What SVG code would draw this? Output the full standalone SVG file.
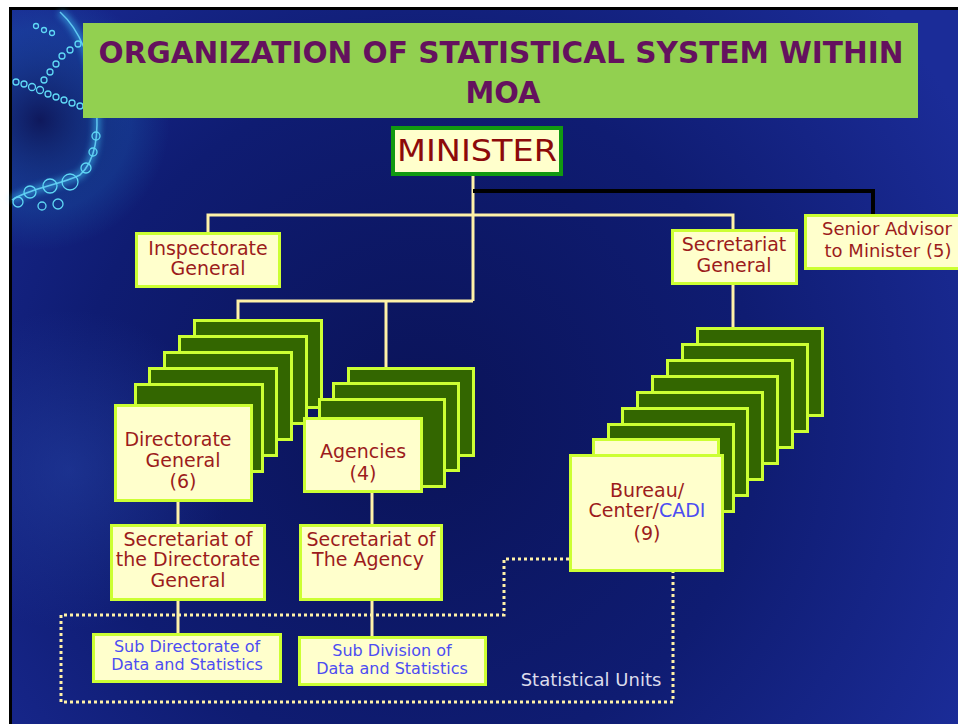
<svg xmlns="http://www.w3.org/2000/svg" width="958" height="724" viewBox="0 0 958 724">
<defs>
<radialGradient id="bg" cx="420" cy="420" r="620" gradientUnits="userSpaceOnUse">
<stop offset="0" stop-color="#0a1358"/>
<stop offset="0.55" stop-color="#0f1c72"/>
<stop offset="1" stop-color="#1b2c98"/>
</radialGradient>
<radialGradient id="glow" cx="40" cy="120" r="130" gradientUnits="userSpaceOnUse">
<stop offset="0" stop-color="#0a1040" stop-opacity="0.6"/>
<stop offset="0.7" stop-color="#1d6fb8" stop-opacity="0.25"/>
<stop offset="1" stop-color="#1d6fb8" stop-opacity="0"/>
</radialGradient>
<radialGradient id="swirl" cx="70" cy="470" r="160" gradientUnits="userSpaceOnUse">
<stop offset="0" stop-color="#2a4bb0" stop-opacity="0.45"/>
<stop offset="1" stop-color="#2a4bb0" stop-opacity="0"/>
</radialGradient>
<filter id="blur" x="-20%" y="-20%" width="140%" height="140%"><feGaussianBlur stdDeviation="3"/></filter>
<style>
.box{fill:#FFFFCC;stroke:#CCFF33;stroke-width:3}
.card{fill:#336600;stroke:#CCFF33;stroke-width:3}
.cardy{fill:#FFFFCC;stroke:#CCFF33;stroke-width:3}
.t{font-family:"DejaVu Sans","Liberation Sans",sans-serif;font-size:19px;fill:#9c1c1c;text-anchor:middle}
.s{font-size:18px}
.b{font-family:"DejaVu Sans","Liberation Sans",sans-serif;font-size:16px;fill:#4d4df2;text-anchor:middle}
.blue{fill:#4d4df2}
.ln{fill:none;stroke:#FFF2A8;stroke-width:3}
.bub{fill:none;stroke:#5fd8f5;stroke-width:1.3}
</style>
</defs>

<g id="background">
<rect x="0" y="0" width="958" height="724" fill="#ffffff"/>
<rect x="9" y="7" width="949" height="717" fill="#000000"/>
<rect x="12" y="10" width="946" height="714" fill="url(#bg)"/>
<rect x="12" y="10" width="300" height="300" fill="url(#glow)"/>
<rect x="12" y="300" width="260" height="330" fill="url(#swirl)"/>
<path d="M60 12 C80 30 92 60 96 100 C99 135 96 160 80 175 C60 185 30 188 12 200" fill="none" stroke="#3ab8ef" stroke-width="7" opacity="0.6" filter="url(#blur)"/>
<path d="M60 12 C80 30 92 60 96 100 C99 135 96 160 80 175 C60 185 30 188 12 200" fill="none" stroke="#6fe0ff" stroke-width="1.5" opacity="0.8"/>
<g class="bub">
<circle cx="70" cy="182" r="8"/><circle cx="50" cy="186" r="7"/><circle cx="30" cy="192" r="6"/>
<circle cx="18" cy="202" r="5"/><circle cx="58" cy="204" r="5"/><circle cx="42" cy="206" r="4"/>
<circle cx="86" cy="168" r="5"/><circle cx="93" cy="152" r="4"/><circle cx="96" cy="136" r="4"/>
<circle cx="16" cy="82" r="3"/><circle cx="24" cy="84" r="3"/><circle cx="32" cy="87" r="3.5"/>
<circle cx="40" cy="90" r="3.5"/><circle cx="48" cy="94" r="3"/><circle cx="56" cy="97" r="3"/>
<circle cx="64" cy="100" r="3"/><circle cx="72" cy="103" r="3"/><circle cx="80" cy="106" r="3"/>
<circle cx="44" cy="80" r="3"/><circle cx="50" cy="72" r="3"/><circle cx="56" cy="64" r="3"/>
<circle cx="62" cy="56" r="3"/><circle cx="70" cy="50" r="3"/><circle cx="78" cy="44" r="3"/>
<circle cx="36" cy="26" r="2.5"/><circle cx="44" cy="30" r="2.5"/><circle cx="52" cy="33" r="2.5"/>
</g>
</g>

<g id="title">
<rect x="83" y="23" width="835" height="95" fill="#92D050"/>
<text x="501" y="63" font-family="'DejaVu Sans','Liberation Sans',sans-serif" font-weight="bold" font-size="30" fill="#64115e" text-anchor="middle" textLength="805" lengthAdjust="spacingAndGlyphs">ORGANIZATION OF STATISTICAL SYSTEM WITHIN</text>
<text x="503" y="103" font-family="'DejaVu Sans','Liberation Sans',sans-serif" font-weight="bold" font-size="30" fill="#64115e" text-anchor="middle" textLength="75" lengthAdjust="spacingAndGlyphs">MOA</text>
</g>

<g id="connectors">
<path class="ln" d="M473 176 V301 M208 232 V215 H733 V229 M238 319 V301 H473 M386 301 V367 M733 285 V327 M178 502 V524 M178 601 V633 M372 493 V524 M372 601 V637"/>
<path d="M473 191 H873 V214" fill="none" stroke="#000000" stroke-width="4"/>
<path d="M569 559 H504 V615 H61 V702 H673 V572" fill="none" stroke="#FFF2A8" stroke-width="3" stroke-dasharray="3 3"/>
</g>

<g id="minister">
<rect x="393" y="128" width="168" height="46" fill="#FFFFCC" stroke="#119911" stroke-width="4"/>
<text x="477" y="161" font-family="'DejaVu Sans','Liberation Sans',sans-serif" font-size="31" fill="#8c0a0a" text-anchor="middle" textLength="160" lengthAdjust="spacingAndGlyphs">MINISTER</text>
</g>

<g id="inspectorate-general">
<rect class="box" x="136.5" y="233.5" width="143" height="53"/>
<text class="t" x="208" y="255">Inspectorate</text>
<text class="t" x="208" y="275">General</text>
</g>

<g id="secretariat-general">
<rect class="box" x="672.5" y="230.5" width="124" height="53"/>
<text class="t" x="734" y="251">Secretariat</text>
<text class="t" x="734" y="272">General</text>
</g>

<g id="senior-advisor">
<rect class="box" x="805.5" y="215.5" width="162" height="53"/>
<text class="t s" x="887" y="235">Senior Advisor</text>
<text class="t s" x="888" y="257">to Minister (5)</text>
</g>

<g id="directorate-general">
<rect class="card" x="194.5" y="320.5" width="127" height="87"/>
<rect class="card" x="179.5" y="336.5" width="127" height="87"/>
<rect class="card" x="164.5" y="352.5" width="127" height="87"/>
<rect class="card" x="149.5" y="368.5" width="127" height="87"/>
<rect class="card" x="135.5" y="384.5" width="127" height="87"/>
<rect class="box" x="115.5" y="405.5" width="136" height="95"/>
<text class="t" x="178" y="446">Directorate</text>
<text class="t" x="183" y="467">General</text>
<text class="t" x="183" y="488">(6)</text>
</g>

<g id="agencies">
<rect class="card" x="348.5" y="368.5" width="125" height="87"/>
<rect class="card" x="333.5" y="383.5" width="125" height="87"/>
<rect class="card" x="319.5" y="399.5" width="125" height="87"/>
<rect class="box" x="304.5" y="418.5" width="117" height="73"/>
<text class="t" x="363" y="458">Agencies</text>
<text class="t" x="363" y="480">(4)</text>
</g>

<g id="bureau-center-cadi">
<rect class="card" x="697.5" y="328.5" width="125" height="87"/>
<rect class="card" x="682.5" y="344.5" width="125" height="87"/>
<rect class="card" x="667.5" y="360.5" width="125" height="87"/>
<rect class="card" x="652.5" y="376.5" width="125" height="87"/>
<rect class="card" x="637.5" y="392.5" width="125" height="87"/>
<rect class="card" x="622.5" y="408.5" width="125" height="87"/>
<rect class="card" x="608.5" y="424.5" width="125" height="87"/>
<rect class="cardy" x="593.5" y="439.5" width="125" height="87"/>
<rect class="box" x="570.5" y="455.5" width="152" height="115"/>
<text class="t" x="647" y="497">Bureau/</text>
<text class="t" x="647" y="517">Center/<tspan class="blue">CADI</tspan></text>
<text class="t" x="647" y="540">(9)</text>
</g>

<g id="secretariat-dg">
<rect class="box" x="111.5" y="525.5" width="153" height="74"/>
<text class="t" x="188" y="546">Secretariat of</text>
<text class="t" x="188" y="566">the Directorate</text>
<text class="t" x="188" y="587">General</text>
</g>

<g id="secretariat-agency">
<rect class="box" x="300.5" y="525.5" width="141" height="74"/>
<text class="t" x="371" y="546">Secretariat of</text>
<text class="t" x="368" y="566">The Agency</text>
</g>

<g id="sub-directorate">
<rect class="box" x="93.5" y="634.5" width="187" height="47"/>
<text class="b" x="187" y="652">Sub Directorate of</text>
<text class="b" x="187" y="670">Data and Statistics</text>
</g>

<g id="sub-division">
<rect class="box" x="299.5" y="637.5" width="186" height="47"/>
<text class="b" x="392" y="656">Sub Division of</text>
<text class="b" x="392" y="674">Data and Statistics</text>
</g>

<g id="statistical-units">
<text x="591" y="686" font-family="'DejaVu Sans','Liberation Sans',sans-serif" font-size="18" fill="#dcdcec" text-anchor="middle">Statistical Units</text>
</g>
</svg>
